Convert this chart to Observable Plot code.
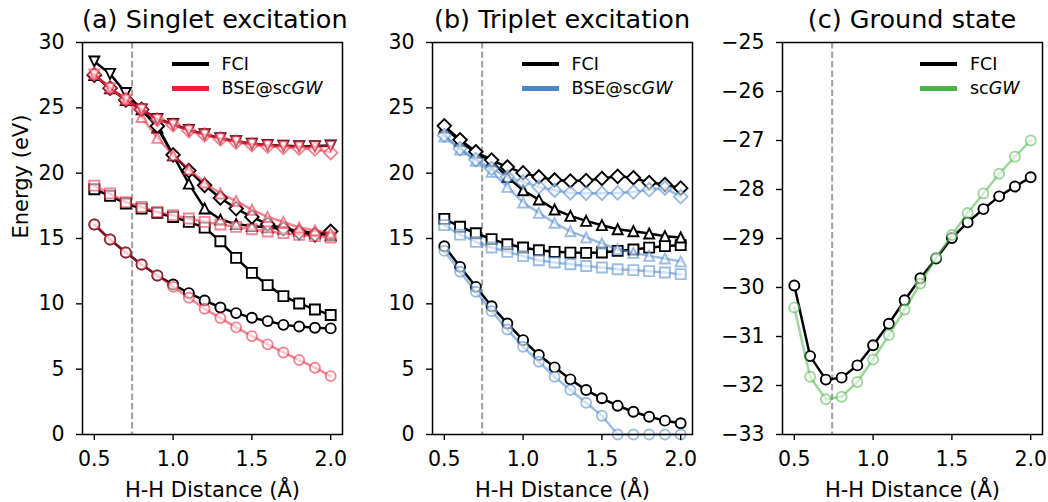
<!DOCTYPE html>
<html><head><meta charset="utf-8">
<script src="https://cdn.jsdelivr.net/npm/d3@7"></script>
<script src="https://cdn.jsdelivr.net/npm/@observablehq/plot@0.6"></script>
<style>
html,body{margin:0;padding:0;background:#fff;overflow:hidden;}
#fig{position:relative;width:1048px;height:502px;font-family:"DejaVu Sans",sans-serif;color:#000;}
.panel{position:absolute;top:0;}
.title{position:absolute;top:7px;font-size:25.5px;line-height:25px;text-align:center;white-space:nowrap;width:260px;}
.row{position:absolute;display:flex;align-items:center;height:20px;white-space:nowrap;font-size:17.5px;line-height:17px;}
.swatch{width:37px;height:4.5px;margin-right:13px;}
</style>
</head><body><div id="fig"></div>
<script>
// ---------- data ----------
const distance = [0.5,0.6,0.7,0.8,0.9,1.0,1.1,1.2,1.3,1.4,1.5,1.6,1.7,1.8,1.9,2.0];
const eqDistance = [0.74];
const xTicks = [0.5,1.0,1.5,2.0];
const excitationTicks = [0,5,10,15,20,25,30];
const groundTicks = [-33,-32,-31,-30,-29,-28,-27,-26,-25];

// (a) singlet excitation energies (eV)
const aFciCircle   = [16.07,14.92,13.93,13.01,12.17,11.48,10.82,10.26,9.72,9.29,8.93,8.68,8.39,8.27,8.17,8.12];
const aFciSquare   = [18.77,18.26,17.68,17.29,16.96,16.65,16.27,15.83,14.79,13.52,12.37,11.43,10.59,10.03,9.57,9.14];
const aFciTriUp    = [27.5,26.5,25.6,24.88,23.5,21.37,19.2,17.3,16.45,16.1,15.95,15.85,15.75,15.6,15.4,15.25];
const aFciDiamond  = [27.5,26.5,25.6,24.88,23.6,21.4,20.2,19.07,18.1,17.29,16.65,16.1,15.76,15.45,15.28,15.55];
const aFciTriDown  = [28.55,27.6,26.13,24.88,24.15,23.76,23.3,22.98,22.68,22.45,22.25,22.16,22.1,22.06,22.07,22.12];
const aBseCircle   = [16.07,14.92,13.93,13.01,12.17,11.3,10.46,9.62,8.91,8.2,7.53,6.9,6.28,5.7,5.11,4.47];
const aBseSquare   = [19.05,18.44,17.78,17.42,17.03,16.78,16.53,16.27,16.07,15.89,15.71,15.54,15.41,15.28,15.18,15.08];
const aBseTriUp    = [27.56,26.51,25.63,24.3,22.7,21.37,20.3,19.28,18.44,17.88,17.2,16.65,16.27,15.84,15.63,15.38];
const aBseDiamond  = [27.56,26.51,25.63,24.88,24.1,23.7,23.25,22.93,22.62,22.38,22.18,22.06,21.98,21.92,21.85,21.57];
const aBseTriDown  = [27.56,26.51,25.63,24.88,24.12,23.72,23.28,22.96,22.66,22.43,22.24,22.14,22.08,22.04,22.05,22.08];

// (b) triplet excitation energies (eV)
const bFciCircle   = [14.41,12.83,11.3,9.82,8.5,7.22,6.08,5.14,4.22,3.4,2.77,2.2,1.74,1.36,1.06,0.86];
const bFciSquare   = [16.5,15.9,15.4,14.95,14.56,14.31,14.1,13.98,13.92,13.9,13.93,14.05,14.16,14.3,14.42,14.49];
const bFciTriUp    = [23.5,22.45,21.55,20.9,19.71,18.69,17.98,17.22,16.73,16.35,16.02,15.71,15.56,15.38,15.18,15.08];
const bFciDiamond  = [23.62,22.55,21.64,21.0,20.47,20.02,19.71,19.48,19.4,19.43,19.59,19.76,19.65,19.28,19.13,18.85];
const bBseCircle   = [14.05,12.45,10.92,9.44,8.04,6.71,5.57,4.42,3.4,2.43,1.44,0,0,0,0,0];
const bBseSquare   = [16.02,15.3,14.74,14.31,13.98,13.65,13.34,13.16,13.03,12.9,12.78,12.65,12.58,12.5,12.4,12.27];
const bBseTriUp    = [22.8,21.8,20.95,20.1,18.95,17.75,16.96,16.2,15.55,15.08,14.62,14.18,13.9,13.67,13.47,13.25];
const bBseDiamond  = [22.9,21.88,21.04,20.35,19.71,19.33,18.95,18.69,18.49,18.46,18.46,18.49,18.56,18.74,18.85,18.2];

// (c) ground state energies (eV)
const cFci = [-29.96,-31.4,-31.88,-31.84,-31.59,-31.18,-30.74,-30.26,-29.81,-29.41,-28.99,-28.67,-28.4,-28.14,-27.94,-27.75];
const cGw  = [-30.41,-31.82,-32.28,-32.23,-31.93,-31.47,-30.97,-30.45,-29.92,-29.39,-28.93,-28.48,-28.08,-27.68,-27.33,-27.0];

const colBlack = "#000000", colRed = "#e8213a", colBlue = "#4a87cb", colGreen = "#4cb448";

// ---------- marker shapes (matplotlib-like) ----------
const mk = f => ({draw(ctx, size){ const r = Math.sqrt(size / Math.PI); f(ctx, r); }});
const symCircle = mk((c,r)=>{ c.moveTo(r,0); c.arc(0,0,r,0,2*Math.PI); c.closePath(); });
const symSquare = mk((c,r)=>{ c.moveTo(-r,-r); c.lineTo(r,-r); c.lineTo(r,r); c.lineTo(-r,r); c.closePath(); });
const symTriUp  = mk((c,r)=>{ c.moveTo(0,-r); c.lineTo(r,r); c.lineTo(-r,r); c.closePath(); });
const symTriDown= mk((c,r)=>{ c.moveTo(0,r); c.lineTo(r,-r); c.lineTo(-r,-r); c.closePath(); });
const symDiamond= mk((c,r)=>{ const q=r*1.35; c.moveTo(0,-q); c.lineTo(q,0); c.lineTo(0,q); c.lineTo(-q,0); c.closePath(); });

const rows = vals => distance.map((d,i)=>({d, e: vals[i]}));

function panel({left, marginRight, width, ydomain, yticks, series, ylabel}) {
  const marks = [
    Plot.ruleX(eqDistance, {stroke:"#a0a0a0", strokeWidth:2, strokeDasharray:"6.5,3"})
  ];
  for (const s of series) {
    const data = rows(s.values);
    marks.push(Plot.line(data, {x:"d", y:"e", stroke:s.color, strokeOpacity:s.alpha, strokeWidth:2.5}));
    marks.push(Plot.dot(data, {x:"d", y:"e", symbol:s.symbol, r:5.0, stroke:s.color, strokeOpacity:s.alpha,
      fill:"white", fillOpacity:s.alpha, strokeWidth:1.9}));
  }
  marks.push(
    Plot.axisX({ticks:xTicks, tickSize:6, tickPadding:11, tickFormat:d3.format(".1f"), label:null, strokeWidth:1.4}),
    Plot.axisY({ticks:yticks, tickSize:6, tickPadding:12, tickFormat:d3.format("d"), label:null, strokeWidth:1.4}),
    Plot.frame({stroke:"black", strokeWidth:1.5}),
    Plot.text(["H-H Distance (Å)"], {text:d=>d, frameAnchor:"bottom", lineAnchor:"bottom", dy:62, fontSize:21})
  );
  if (ylabel) marks.push(Plot.text([ylabel], {text:d=>d, frameAnchor:"left", lineAnchor:"bottom", rotate:-90, dx:-55, fontSize:21}));
  const svg = Plot.plot({
    width, height:502, marginLeft:82, marginRight, marginTop:42, marginBottom:68,
    x:{domain:[0.425,2.075]}, y:{domain:ydomain},
    style:{fontFamily:"DejaVu Sans", fontSize:"20.5px", color:"black", background:"transparent", overflow:"visible"},
    marks
  });
  svg.classList.add("panel");
  svg.style.left = left + "px";
  return svg;
}

const fig = document.getElementById("fig");
const fci = (values, symbol) => ({values, symbol, color:colBlack, alpha:1});
const alt = (values, symbol, color) => ({values, symbol, color, alpha:0.55});

fig.appendChild(panel({left:0, width:350, marginRight:8, ydomain:[0,30], yticks:excitationTicks, ylabel:"Energy (eV)", series:[
  fci(aFciCircle,symCircle), fci(aFciSquare,symSquare), fci(aFciTriUp,symTriUp), fci(aFciDiamond,symDiamond), fci(aFciTriDown,symTriDown),
  alt(aBseCircle,symCircle,colRed), alt(aBseSquare,symSquare,colRed), alt(aBseTriUp,symTriUp,colRed), alt(aBseDiamond,symDiamond,colRed), alt(aBseTriDown,symTriDown,colRed)
]}));
fig.appendChild(panel({left:350, width:350, marginRight:8, ydomain:[0,30], yticks:excitationTicks, series:[
  fci(bFciCircle,symCircle), fci(bFciSquare,symSquare), fci(bFciTriUp,symTriUp), fci(bFciDiamond,symDiamond),
  alt(bBseCircle,symCircle,colBlue), alt(bBseSquare,symSquare,colBlue), alt(bBseTriUp,symTriUp,colBlue), alt(bBseDiamond,symDiamond,colBlue)
]}));
fig.appendChild(panel({left:700, width:348, marginRight:6, ydomain:[-33,-25], yticks:groundTicks, series:[
  fci(cFci,symCircle), alt(cGw,symCircle,colGreen)
]}));

// titles
const titles = [["(a) Singlet excitation",82],["(b) Triplet excitation",432],["(c) Ground state",782]];
for (const [t,l] of titles) {
  const d = document.createElement("div"); d.className="title"; d.style.left=l+"px"; d.textContent=t; fig.appendChild(d);
}
// legends
const legends = [
  [171.5, [[colBlack,"FCI"],[colRed,"BSE@sc<i>GW</i>"]]],
  [521.5, [[colBlack,"FCI"],[colBlue,"BSE@sc<i>GW</i>"]]],
  [920,   [[colBlack,"FCI"],[colGreen,"sc<i>GW</i>"]]]
];
for (const [x, items] of legends) {
  items.forEach(([c,label],i)=>{
    const r = document.createElement("div"); r.className="row";
    r.style.left = x+"px"; r.style.top = (54 + i*24.5)+"px";
    r.innerHTML = `<span class="swatch" style="background:${c}"></span><span>${label}</span>`;
    fig.appendChild(r);
  });
}
</script></body></html>
